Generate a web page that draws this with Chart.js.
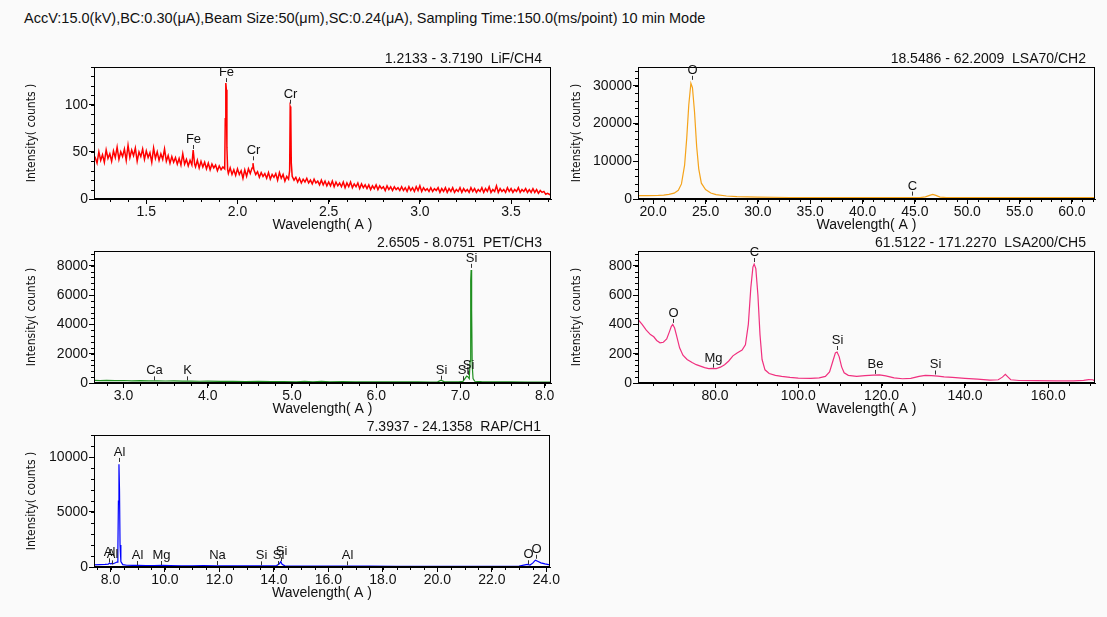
<!DOCTYPE html>
<html>
<head>
<meta charset="utf-8">
<script src="https://cdn.jsdelivr.net/npm/chart.js"></script>
<style>
  body { margin: 0; background: #fafafa; width: 1107px; height: 617px; position: relative; overflow: hidden;
         font-family: 'Liberation Sans', Arial, sans-serif; }
  #header { position: absolute; left: 24px; top: 10px; font-size: 14.5px; color: #111; white-space: nowrap; }
  canvas { position: absolute; }
</style>
</head>
<body>
<div id="header">AccV:15.0(kV),BC:0.30(μA),Beam Size:50(μm),SC:0.24(μA), Sampling Time:150.0(ms/point) 10 min Mode</div>
<canvas id="lif" width="560" height="195" style="left:0px;top:40px"></canvas>
<canvas id="lsa70" width="547" height="195" style="left:560px;top:40px"></canvas>
<canvas id="pet" width="560" height="195" style="left:0px;top:224px"></canvas>
<canvas id="lsa200" width="547" height="195" style="left:560px;top:224px"></canvas>
<canvas id="rap" width="560" height="195" style="left:0px;top:408px"></canvas>

<script>
// ---- LiF / CH4 : [wavelength, counts]
var lifSpectrum = [
  [1.2133,46],[1.22,44],[1.23,38],[1.24,50],[1.25,41],[1.26,47],[1.27,39],[1.28,52],[1.29,43],[1.30,48],[1.31,40],
  [1.32,51],[1.33,44],[1.34,55],[1.35,42],[1.36,50],[1.37,45],[1.38,53],[1.39,41],[1.40,57],[1.41,44],
  [1.42,52],[1.43,46],[1.44,54],[1.45,40],[1.46,50],[1.47,45],[1.48,53],[1.49,42],[1.50,51],[1.51,44],
  [1.52,49],[1.53,39],[1.54,54],[1.55,43],[1.56,50],[1.57,41],[1.58,48],[1.59,42],[1.60,53],[1.61,40],
  [1.62,46],[1.63,38],[1.64,45],[1.65,39],[1.66,44],[1.67,37],[1.68,43],[1.69,36],[1.70,48],[1.71,37],
  [1.72,42],[1.73,35],[1.74,41],[1.75,36],[1.757,52],[1.765,37],[1.77,34],[1.78,41],[1.79,33],[1.80,40],
  [1.81,34],[1.82,39],[1.83,32],[1.84,38],[1.85,31],[1.86,37],[1.87,33],[1.88,36],[1.89,30],[1.90,35],
  [1.91,31],[1.92,34],[1.93,32],[1.933,85],[1.936,123],[1.939,116],[1.942,55],[1.946,31],[1.95,27],[1.96,33],
  [1.97,26],[1.98,31],[1.99,25],[2.00,32],[2.01,26],[2.02,30],[2.03,22],[2.04,31],[2.05,24],[2.06,32],
  [2.07,27],[2.08,33],[2.085,38],[2.09,31],[2.10,26],[2.11,29],[2.12,23],[2.13,28],[2.14,24],[2.15,27],
  [2.16,22],[2.17,28],[2.18,21],[2.19,26],[2.20,23],[2.21,27],[2.22,20],[2.23,28],[2.24,22],[2.25,26],
  [2.26,19],[2.27,24],[2.28,21],[2.286,30],[2.289,98],[2.292,96],[2.295,38],[2.30,24],[2.31,20],[2.32,23],
  [2.33,18],[2.34,22],[2.35,17],[2.36,21],[2.37,18],[2.38,22],[2.39,17],[2.40,20],[2.41,16],[2.42,21],
  [2.43,17],[2.44,19],[2.45,15],[2.46,20],[2.47,15],[2.48,19],[2.49,14],[2.50,18],[2.51,14],[2.52,19],
  [2.53,13],[2.54,18],[2.55,14],[2.56,17],[2.57,13],[2.58,18],[2.59,12],[2.60,17],[2.61,13],[2.62,18],
  [2.63,12],[2.64,16],[2.65,13],[2.66,17],[2.67,11],[2.68,16],[2.69,12],[2.70,15],[2.71,11],[2.72,15],
  [2.73,10],[2.74,14],[2.75,11],[2.76,15],[2.77,10],[2.78,14],[2.79,11],[2.80,13],[2.81,9],[2.82,14],
  [2.83,10],[2.84,13],[2.85,9],[2.86,13],[2.87,10],[2.88,12],[2.89,9],[2.90,13],[2.91,9],[2.92,12],
  [2.93,8],[2.94,13],[2.95,9],[2.96,12],[2.97,8],[2.98,13],[2.99,9],[3.00,14],[3.01,8],[3.02,12],
  [3.03,9],[3.04,11],[3.05,8],[3.06,12],[3.07,8],[3.08,11],[3.09,9],[3.10,12],[3.11,7],[3.12,11],
  [3.13,8],[3.14,12],[3.15,7],[3.16,11],[3.17,8],[3.18,12],[3.19,7],[3.20,10],[3.21,8],[3.22,12],
  [3.23,7],[3.24,11],[3.25,8],[3.26,10],[3.27,7],[3.28,12],[3.29,8],[3.30,11],[3.31,7],[3.32,10],
  [3.33,8],[3.34,12],[3.35,7],[3.36,11],[3.37,8],[3.38,13],[3.39,7],[3.40,10],[3.41,8],[3.42,14],
  [3.43,7],[3.44,11],[3.45,8],[3.46,10],[3.47,7],[3.48,12],[3.49,8],[3.50,11],[3.51,7],[3.52,10],
  [3.53,8],[3.54,12],[3.55,7],[3.56,10],[3.57,8],[3.58,11],[3.59,7],[3.60,10],[3.61,7],[3.62,11],
  [3.63,7],[3.64,10],[3.65,6],[3.66,9],[3.67,7],[3.68,8],[3.69,5],[3.70,6],[3.719,4]
];
var lifXTicks = [1.5, 2.0, 2.5, 3.0, 3.5];
var lifYTicks = [0, 50, 100];
var lifPeakNames = ['Fe', 'Fe', 'Cr', 'Cr'];
var lifPeakWave = [1.757, 1.936, 2.085, 2.290];
var lifPeakCounts = [53, 124, 41, 101];

// ---- LSA70 / CH2
var lsa70Spectrum = [
  [18.55,900],[19.5,920],[20.5,980],[21.0,1050],[21.5,1250],[22.0,1550],[22.4,2300],[22.7,4000],[23.0,9000],
  [23.2,16000],[23.4,25000],[23.6,30700],[23.75,29500],[23.95,23000],[24.15,14000],[24.35,8000],[24.6,4200],
  [25.0,2500],[25.5,1600],[26.0,1150],[27.0,800],[28.0,620],[30.0,480],[33.0,400],[37.0,370],[41.0,360],
  [44.0,360],[45.5,380],[46.0,550],[46.4,950],[46.7,1200],[47.0,950],[47.4,520],[48.0,380],[52.0,360],
  [56.0,350],[60.0,340],[62.2,340]
];
var lsa70XTicks = [20, 25, 30, 35, 40, 45, 50, 55, 60];
var lsa70YTicks = [0, 10000, 20000, 30000];
var lsa70PeakNames = ['O', 'C'];
var lsa70PeakWave = [23.66, 44.69];
var lsa70PeakCounts = [31600, 900];

// ---- PET / CH3
var petSpectrum = [
  [2.65,175],[2.72,165],[2.8,180],[2.9,160],[3.0,170],[3.1,150],[3.2,160],[3.3,145],[3.4,150],[3.5,135],
  [3.6,140],[3.7,125],[3.8,130],[3.9,120],[4.0,125],[4.15,110],[4.3,115],[4.45,100],[4.6,105],[4.75,95],
  [4.9,100],[5.05,85],[5.15,110],[5.25,80],[5.35,105],[5.45,85],[5.6,90],[5.75,75],[5.9,85],[6.05,70],
  [6.2,80],[6.35,70],[6.5,75],[6.65,65],[6.73,75],[6.77,190],[6.81,80],[6.9,70],[6.98,75],[7.03,110],
  [7.06,350],[7.075,470],[7.09,420],[7.105,300],[7.115,1500],[7.122,7000],[7.127,7700],[7.133,5000],
  [7.14,1200],[7.15,300],[7.17,120],[7.25,90],[7.4,80],[7.6,70],[7.8,65],[8.0,60],[8.075,60]
];
var petXTicks = [3, 4, 5, 6, 7, 8];
var petYTicks = [0, 2000, 4000, 6000, 8000];
var petPeakNames = ['Ca', 'K', 'Si', 'Si', 'Si', 'Si'];
var petPeakWave = [3.36, 3.75, 6.77, 7.025, 7.085, 7.125];
var petPeakCounts = [180, 180, 230, 190, 560, 7850];

// ---- LSA200 / CH5
var lsa200Spectrum = [
  [61.5,433],[62.5,400],[63.5,360],[64.5,330],[65.3,315],[66.0,290],[66.8,274],[67.6,278],[68.4,300],
  [69.0,345],[69.5,385],[69.85,399],[70.3,375],[70.8,320],[71.5,240],[72.3,190],[73.3,160],[74.5,140],
  [75.5,125],[76.5,115],[77.5,105],[78.5,98],[79.4,100],[80.3,98],[81.3,108],[82.3,125],[83.3,150],
  [84.3,185],[85.3,205],[86.5,225],[87.3,260],[88.0,400],[88.6,650],[89.1,790],[89.4,811],[89.8,780],
  [90.3,600],[90.8,330],[91.3,160],[92.0,90],[93.0,65],[94.5,52],[96.0,45],[98.0,38],[100.0,33],
  [103.0,32],[105.0,35],[106.5,45],[107.5,75],[108.3,150],[108.9,205],[109.3,211],[109.8,180],[110.4,110],
  [111.0,70],[112.0,52],[114.0,45],[116.0,50],[118.0,54],[119.5,55],[121.0,48],[123.0,35],[125.0,29],
  [127.0,32],[129.0,45],[130.5,52],[132.0,50],[133.5,47],[135.0,42],[137.0,38],[140.0,32],[143.0,26],
  [146.0,20],[148.0,22],[149.0,40],[149.7,59],[150.3,42],[151.0,22],[153.0,17],[157.0,16],[162.0,15],
  [166.0,15],[168.5,18],[169.7,23],[170.7,22],[171.2,14]
];
var lsa200XTicks = [80, 100, 120, 140, 160];
var lsa200YTicks = [0, 200, 400, 600, 800];
var lsa200PeakNames = ['O', 'Mg', 'C', 'Si', 'Be', 'Si'];
var lsa200PeakWave = [69.85, 79.4, 89.4, 109.4, 118.5, 132.9];
var lsa200PeakCounts = [410, 105, 825, 225, 62, 58];

// ---- RAP / CH1
var rapSpectrum = [
  [7.39,200],[7.6,210],[7.8,230],[7.92,260],[7.96,360],[8.0,280],[8.05,330],[8.1,300],[8.18,380],[8.24,450],
  [8.27,1500],[8.29,6000],[8.31,9350],[8.33,7000],[8.35,2000],[8.38,500],[8.45,220],[8.6,160],[8.8,140],
  [9.0,150],[9.3,130],[9.6,125],[9.89,140],[10.2,120],[10.6,115],[11.0,110],[11.4,120],[11.9,115],
  [12.4,105],[12.9,100],[13.3,95],[13.55,110],[13.8,95],[14.1,130],[14.2,300],[14.25,480],[14.3,250],
  [14.4,110],[14.8,90],[15.4,85],[16.0,80],[16.7,85],[17.5,75],[18.5,70],[19.5,70],[20.5,65],[21.5,65],
  [22.5,60],[23.0,80],[23.3,230],[23.4,180],[23.5,350],[23.6,620],[23.7,500],[23.8,380],[23.95,280],[24.13,200]
];
var rapXTicks = [8, 10, 12, 14, 16, 18, 20, 22, 24];
var rapYTicks = [0, 5000, 10000];
var rapPeakNames = ['Al', 'Al', 'Al', 'Al', 'Mg', 'Na', 'Si', 'Si', 'Si', 'Al', 'O', 'O'];
var rapPeakWave = [7.95, 8.06, 8.32, 8.98, 9.86, 11.9, 13.52, 14.16, 14.26, 16.67, 23.34, 23.63];
var rapPeakCounts = [420, 240, 9550, 180, 180, 180, 150, 180, 520, 150, 250, 750];

var FONT = "'Liberation Sans', Arial, sans-serif";

// draws frame, minor ticks, peak markers and the range/crystal caption
var panelDecor = {
  id: 'panelDecor',
  afterDraw: function(chart) {
    var p = chart.options.plugins.panelDecor;
    var ctx = chart.ctx, a = chart.chartArea, xs = chart.scales.x, ys = chart.scales.y;
    ctx.save();
    ctx.strokeStyle = '#000';
    ctx.lineWidth = 1;
    ctx.strokeRect(Math.round(a.left) + 0.5, Math.round(a.top) + 0.5,
                   Math.round(a.right - a.left) - 1, Math.round(a.bottom - a.top) - 1);

    // minor ticks
    ctx.beginPath();
    var i, px, py;
    for (i = Math.ceil(xs.min / p.xMinor); i * p.xMinor <= xs.max; i++) {
      px = Math.round(xs.getPixelForValue(i * p.xMinor)) + 0.5;
      ctx.moveTo(px, a.bottom);
      ctx.lineTo(px, a.bottom + 3);
    }
    for (i = 0; i * p.yMinor <= ys.max; i++) {
      py = Math.round(ys.getPixelForValue(i * p.yMinor)) + 0.5;
      ctx.moveTo(a.left, py);
      ctx.lineTo(a.left - 3, py);
    }
    ctx.stroke();

    // peak markers
    ctx.font = '13px ' + FONT;
    ctx.textAlign = 'center';
    ctx.textBaseline = 'alphabetic';
    ctx.fillStyle = '#111';
    ctx.strokeStyle = '#333';
    ctx.beginPath();
    for (i = 0; i < p.names.length; i++) {
      px = Math.round(xs.getPixelForValue(p.wave[i])) + 0.5;
      py = ys.getPixelForValue(p.counts[i]);
      ctx.moveTo(px, py);
      ctx.lineTo(px, py - 4);
      ctx.fillText(p.names[i], px, py - 6);
    }
    ctx.stroke();

    // caption
    ctx.font = '14px ' + FONT;
    ctx.textAlign = 'right';
    ctx.textBaseline = 'middle';
    ctx.fillText(p.caption, a.right - 9, a.top - 8);
    ctx.restore();
  }
};

function makePanel(id, spectrum, color, lineW, xMin, xMax, yMax, xTicks, xDec, yTicks, xMinor, yMinor,
                   names, wave, counts, caption, plotLeft, plotRight, titleOffset) {
  var canvas = document.getElementById(id);
  var W = canvas.width, H = canvas.height;
  var plotTop = 27, plotBottom = 159;
  return new Chart(canvas.getContext('2d'), {
    type: 'line',
    data: {
      datasets: [{
        data: spectrum.map(function(p) { return {x: p[0], y: p[1]}; }),
        borderColor: color,
        borderWidth: lineW,
        pointRadius: 0,
        tension: 0,
        fill: false
      }]
    },
    options: {
      responsive: false,
      animation: false,
      layout: { padding: { left: 0, right: W - plotRight, top: plotTop, bottom: 0 } },
      plugins: {
        legend: { display: false },
        tooltip: { enabled: false },
        panelDecor: { xMinor: xMinor, yMinor: yMinor, names: names, wave: wave, counts: counts, caption: caption }
      },
      scales: {
        x: {
          type: 'linear', min: xMin, max: xMax,
          afterBuildTicks: function(s) { s.ticks = xTicks.map(function(v) { return {value: v}; }); },
          afterFit: function(s) { s.height = H - plotBottom; },
          ticks: { autoSkip: false, maxRotation: 0, padding: 0, color: '#111', font: { family: FONT, size: 14 },
                   callback: function(v) { return Number(v).toFixed(xDec); } },
          grid: { drawOnChartArea: false, drawTicks: true, tickLength: 5, tickColor: '#000' },
          border: { display: true, color: '#000' },
          title: { display: true, text: 'Wavelength( A )', color: '#111',
                   font: { family: FONT, size: 14 }, padding: { top: 0, bottom: 1 } }
        },
        y: {
          type: 'linear', min: 0, max: yMax,
          afterBuildTicks: function(s) { s.ticks = yTicks.map(function(v) { return {value: v}; }); },
          afterFit: function(s) { s.width = plotLeft; },
          ticks: { padding: 1, color: '#111', font: { family: FONT, size: 14 },
                   callback: function(v) { return String(v); } },
          grid: { drawOnChartArea: false, drawTicks: true, tickLength: 5, tickColor: '#000' },
          border: { display: true, color: '#000' },
          title: { display: true, text: 'Intensity( counts )', color: '#111',
                   font: { family: "'Liberation Sans Narrow', 'DejaVu Sans Condensed', sans-serif", size: 12 },
                   padding: { top: titleOffset, bottom: 0 } }
        }
      }
    },
    plugins: [panelDecor]
  });
}

makePanel('lif', lifSpectrum, '#ff0000', 1.5, 1.2133, 3.7190, 140, lifXTicks, 1, lifYTicks, 0.1, 10,
          lifPeakNames, lifPeakWave, lifPeakCounts, '1.2133 - 3.7190  LiF/CH4', 94, 551, 25);
makePanel('lsa70', lsa70Spectrum, '#f5a31a', 1.2, 18.5486, 62.2009, 35000, lsa70XTicks, 1, lsa70YTicks, 1, 2000,
          lsa70PeakNames, lsa70PeakWave, lsa70PeakCounts, '18.5486 - 62.2009  LSA70/CH2', 78, 535, 10);
makePanel('pet', petSpectrum, '#1f8f1f', 1.2, 2.6505, 8.0751, 9000, petXTicks, 1, petYTicks, 0.2, 400,
          petPeakNames, petPeakWave, petPeakCounts, '2.6505 - 8.0751  PET/CH3', 94, 551, 25);
makePanel('lsa200', lsa200Spectrum, '#f0307f', 1.2, 61.5122, 171.2270, 900, lsa200XTicks, 1, lsa200YTicks, 5, 40,
          lsa200PeakNames, lsa200PeakWave, lsa200PeakCounts, '61.5122 - 171.2270  LSA200/CH5', 78, 535, 10);
makePanel('rap', rapSpectrum, '#0000ff', 1.2, 7.3937, 24.1358, 12000, rapXTicks, 1, rapYTicks, 0.5, 1000,
          rapPeakNames, rapPeakWave, rapPeakCounts, '7.3937 - 24.1358  RAP/CH1', 94, 551, 25);
</script>
</body>
</html>
